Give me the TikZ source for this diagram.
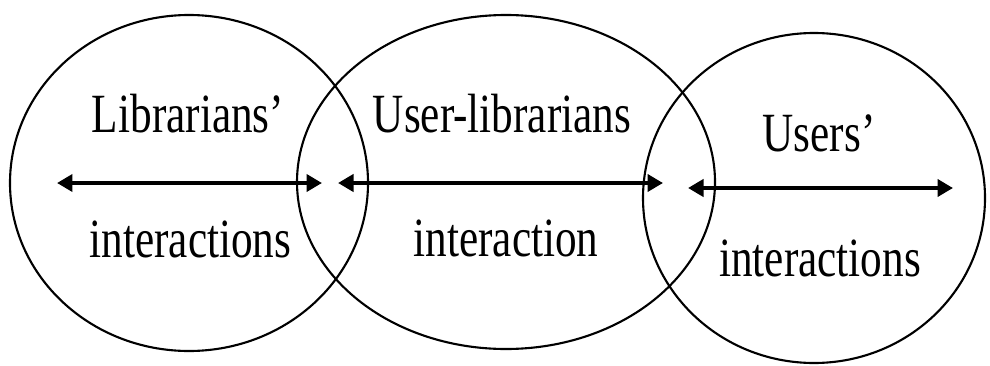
\documentclass[tikz,border=0pt]{standalone}
\usepackage{fontspec}
\setmainfont{Liberation Serif}
\usetikzlibrary{arrows.meta}
\newcommand{\tallword}[1]{\scalebox{1}[1.28]{#1}}

\begin{document}
\begin{tikzpicture}[x=0.02cm, y=0.02cm,
		ring/.style={black, line width=1.2pt},
		link/.style={black, line width=2.2pt, {Triangle[length=0.31cm,width=0.34cm]}-{Triangle[length=0.31cm,width=0.34cm]}},
		every node/.style={inner sep=0pt, anchor=base, font=\fontsize{24.6}{30}\selectfont}]
				\useasboundingbox (0,0) rectangle (990,-365);
				% the three circles
				\draw [ring] (189,-183) ellipse (179 and 168);
				\draw [ring] (506,-182) ellipse (209 and 167);
				\draw [ring] (814,-198) ellipse (171 and 165);
				% labels
				\node (libtop) at (188,-132.5) {\tallword{Librarians'}};
				\node (libbot) at (190.5,-257.5) {\tallword{interactions}};
				\node (mixtop) at (502,-132) {\tallword{User-librarians}};
				\node (mixbot) at (506,-256) {\tallword{interaction}};
				\node (usrtop) at (819,-151.7) {\tallword{Users'}};
				\node (usrbot) at (820,-276) {\tallword{interactions}};
				% arrows
				\coordinate (libL) at (57,-183);
				\coordinate (libR) at (322,-183);
				\coordinate (mixL) at (338,-183);
				\coordinate (mixR) at (663,-183);
				\coordinate (usrL) at (688,-188);
				\coordinate (usrR) at (953,-188);
				\draw [link] (libL) -- (libR);
				\draw [link] (mixL) -- (mixR);
				\draw [link] (usrL) -- (usrR);
\end{tikzpicture}
\end{document}
